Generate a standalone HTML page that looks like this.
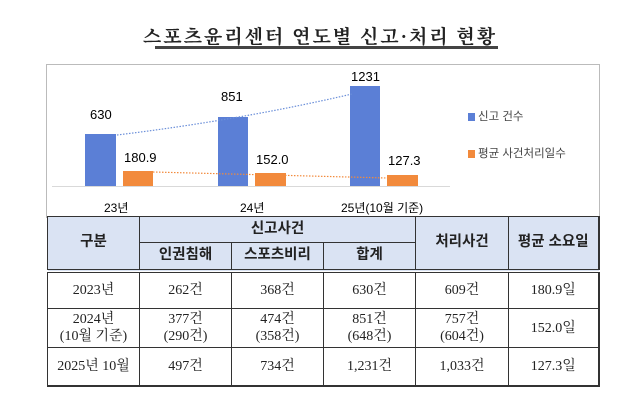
<!DOCTYPE html>
<html><head><meta charset="utf-8"><style>
html,body{margin:0;padding:0;background:#fff;}
body{width:640px;height:413px;position:relative;overflow:hidden;font-family:"Liberation Sans","Noto Sans CJK KR",sans-serif;}
.t{position:absolute;white-space:nowrap;}
table{position:absolute;left:47px;top:216px;border-collapse:collapse;font-family:"Liberation Serif","Noto Serif CJK SC",serif;font-size:14px;color:#222;border-right:2px solid #333;border-bottom:2px solid #333;}
td{border:1px solid #333;text-align:center;padding:0;line-height:17px;}
.h{background:#dae3f3;font-family:"Liberation Sans","Noto Sans CJK KR",sans-serif;font-weight:bold;font-size:14.5px;}
</style></head><body>
<div class="t" style="left:0;width:640px;text-align:center;top:22px;font-size:19px;font-weight:bold;letter-spacing:2px;font-family:'Liberation Serif','Noto Serif CJK SC',serif;color:#222">스포츠윤리센터 연도별 신고·처리 현황</div>
<div style="position:absolute;left:155px;top:46px;width:343px;height:3px;background:#444"></div>
<div style="position:absolute;left:46px;top:64px;width:552px;height:153px;border:1px solid #bbb;border-bottom:none"></div>
<svg style="position:absolute;left:0;top:0" width="640" height="413">
<line x1="52" y1="186.5" x2="450" y2="186.5" stroke="#d9d9d9"/>
<rect x="85" y="134" width="31" height="52" fill="#5b7fd6"/>
<rect x="123" y="171" width="30" height="15" fill="#f28a3c"/>
<rect x="218" y="117" width="30" height="69" fill="#5b7fd6"/>
<rect x="255" y="173" width="31" height="13" fill="#f28a3c"/>
<rect x="350" y="86" width="30" height="100" fill="#5b7fd6"/>
<rect x="387" y="175" width="31" height="11" fill="#f28a3c"/>
<path d="M117 135 Q240 120 352 94" fill="none" stroke="#6b8fd9" stroke-width="1.2" stroke-dasharray="1.5 1.5"/>
<path d="M153 172 L387 178" fill="none" stroke="#f28a3c" stroke-width="1.2" stroke-dasharray="1.5 1.5"/>
<rect x="468" y="113" width="7" height="8" fill="#5b7fd6"/>
<rect x="468" y="150" width="7" height="8" fill="#f28a3c"/>
</svg>
<div class="t" style="left:90px;top:107px;font-size:13px">630</div>
<div class="t" style="left:124px;top:150px;font-size:13px">180.9</div>
<div class="t" style="left:221px;top:89px;font-size:13px">851</div>
<div class="t" style="left:256px;top:152px;font-size:13px">152.0</div>
<div class="t" style="left:351px;top:69px;font-size:13px">1231</div>
<div class="t" style="left:388px;top:153px;font-size:13px">127.3</div>
<div class="t" style="left:478px;top:108px;font-size:11.5px;color:#444">신고 건수</div>
<div class="t" style="left:478px;top:145px;font-size:11.5px;color:#444">평균 사건처리일수</div>
<div class="t" style="left:104px;top:199px;font-size:12px">23년</div>
<div class="t" style="left:240px;top:199px;font-size:12px">24년</div>
<div class="t" style="left:341px;top:199px;font-size:12px">25년(10월 기준)</div>
<table>
<colgroup><col style="width:92px"><col style="width:92px"><col style="width:92px"><col style="width:92px"><col style="width:93px"><col style="width:90px"></colgroup>
<tr style="height:26px"><td class="h" rowspan="2" style="border-bottom:4px double #333">구분</td><td class="h" colspan="3">신고사건</td><td class="h" rowspan="2" style="border-bottom:4px double #333">처리사건</td><td class="h" rowspan="2" style="border-bottom:4px double #333">평균 소요일</td></tr>
<tr style="height:28px"><td class="h" style="border-bottom:4px double #333">인권침해</td><td class="h" style="border-bottom:4px double #333">스포츠비리</td><td class="h" style="border-bottom:4px double #333">합계</td></tr>
<tr style="height:38px"><td>2023년</td><td>262건</td><td>368건</td><td>630건</td><td>609건</td><td>180.9일</td></tr>
<tr style="height:39px"><td>2024년<br>(10월 기준)</td><td>377건<br>(290건)</td><td>474건<br>(358건)</td><td>851건<br>(648건)</td><td>757건<br>(604건)</td><td>152.0일</td></tr>
<tr style="height:38px"><td>2025년 10월</td><td>497건</td><td>734건</td><td>1,231건</td><td>1,033건</td><td>127.3일</td></tr>
</table>
</body></html>
